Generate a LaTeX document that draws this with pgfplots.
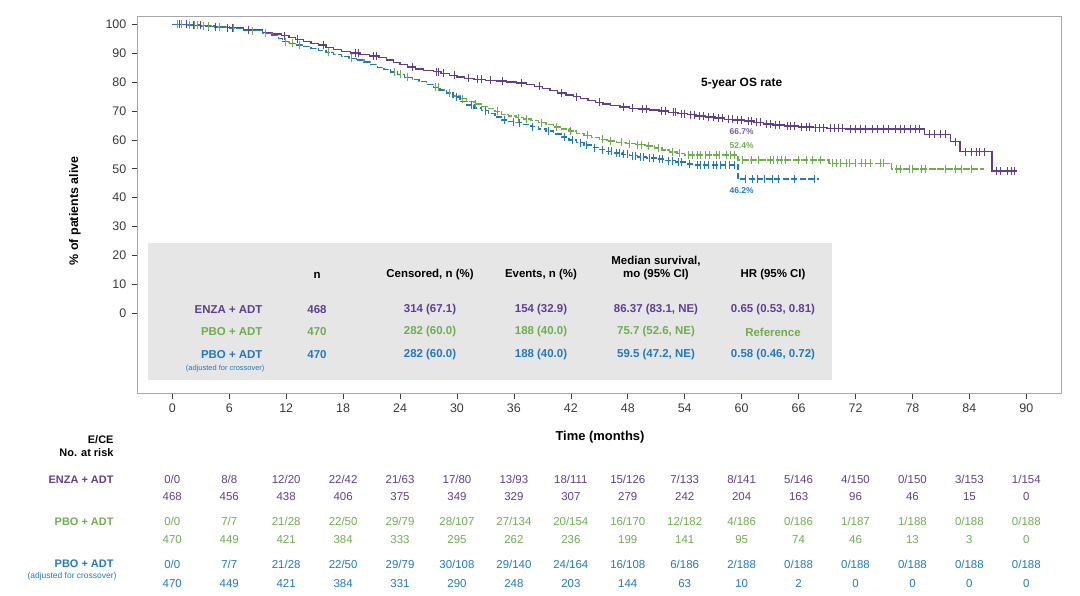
\documentclass[border=0pt]{standalone}
\usepackage{pgfplots}
\usepackage{pgfplotstable}
\pgfplotsset{compat=1.18}
\usepackage{fontspec}
\setmainfont{Liberation Sans}
\definecolor{enza}{HTML}{5F3F91}
\definecolor{pbo}{HTML}{6FAD4F}
\definecolor{adj}{HTML}{2379BF}
\definecolor{boxgray}{HTML}{E6E6E6}
\definecolor{axgray}{HTML}{A8A8A8}
\definecolor{txt}{HTML}{3A3A3A}

% ENZA + ADT step curve
\pgfplotstableread{
x y
0 100
1.8 99.6
3.5 99.2
5.5 98.8
7.5 98.0
9.5 97.2
10.5 96.6
11.5 96.0
12.3 95.4
13 94.8
13.8 94.0
14.6 93.4
15.4 92.8
16.2 92.0
17 91.2
17.8 90.5
18.8 90.0
19.8 89.6
20.8 89.0
21.8 88.4
22.6 87.6
23.3 86.8
24 86.0
24.8 85.2
25.6 84.5
26.5 84.0
27.5 83.6
28.3 83.0
29.2 82.3
30 81.8
30.8 81.3
31.8 80.9
33 80.6
34.2 80.4
35.2 80.0
36.3 79.6
37.3 79.2
38.2 78.5
39 77.8
39.8 77.0
40.6 76.2
41.5 75.5
42.3 74.9
43 74.3
43.8 73.6
44.6 73.0
45.4 72.4
46.2 71.8
47.2 71.3
48.2 70.9
49.2 70.6
50.3 70.3
51.3 69.9
52.3 69.5
53.3 69.1
54.3 68.7
55.2 68.3
56.2 67.9
57.2 67.5
58.2 67.1
59.2 66.8
60.3 66.5
61.3 66.0
62.3 65.5
63.3 65.1
64.5 64.8
66 64.5
67.5 64.2
69 64.0
71 63.8
79.3 61.9
82.0 59.4
83.0 55.9
86.4 49.2
89.0 49.2
}\enzaline

\pgfplotstableread{
x y
0.8 100
1.5 100
2.2 99.6
3 99.6
3.8 99.2
4.5 99.2
5.8 98.8
6.3 98.8
8 98.0
11.8 96.0
13.2 94.8
15.9 92.8
19.3 90.0
19.6 90.0
21.2 89.0
21.5 89.0
25.3 85.2
27.8 83.6
28.1 83.6
28.6 83.0
29.7 82.3
31.2 81.3
32.2 80.9
32.6 80.9
33.5 80.6
34.8 80.4
36.8 79.6
38.7 78.5
41 76.2
42.6 74.9
45 73.0
47.6 71.3
48.5 70.9
49.5 70.6
50 70.6
51.6 69.9
52 69.9
52.8 69.5
53 69.5
53.7 69.1
54 69.1
54.6 68.7
55 68.7
55.6 68.3
56 68.3
56.5 67.9
57 67.9
57.6 67.5
58 67.5
58.6 67.1
59 67.1
59.6 66.8
60 66.8
60.7 66.5
61 66.5
61.6 66.0
62 66.0
62.6 65.5
63 65.5
63.6 65.1
64 65.1
64.8 64.8
65.2 64.8
65.6 64.8
66.3 64.5
66.8 64.5
67.2 64.5
67.8 64.2
68.2 64.2
68.6 64.2
69.4 64.0
69.8 64.0
70.2 64.0
70.6 64.0
71.5 63.8
72 63.8
72.5 63.8
73 63.8
73.8 63.8
74.3 63.8
75 63.8
75.5 63.8
76.2 63.8
76.7 63.8
77.2 63.8
77.8 63.8
78.3 63.8
78.7 63.8
79.8 61.9
80.3 61.9
81 61.9
81.5 61.9
82.5 59.4
83.6 55.9
84.2 55.9
84.7 55.9
85.1 55.9
85.6 55.9
86.9 49.2
87.3 49.2
88 49.2
88.4 49.2
88.8 49.2
}\enzacens

% PBO + ADT step curve
\pgfplotstableread{
x y
0 100
1.5 99.7
3 99.4
4.5 99.0
6 98.6
7.5 97.8
9.5 96.8
10.5 96.0
11.2 95.0
11.6 94.0
12.3 93.4
13 92.8
13.8 92.2
14.6 91.6
15.4 91.0
16.2 90.3
17 89.6
17.8 88.9
18.6 88.2
19.4 87.6
20.2 86.9
20.9 86.0
21.6 85.1
22.3 84.3
23 83.5
23.7 82.6
24.5 81.6
25.3 80.8
26 80.2
26.8 79.2
27.5 78.2
28.2 77.3
28.9 76.2
29.6 75.2
30.3 74.2
31 73.3
31.8 72.4
32.6 71.6
33.3 70.8
34 69.8
34.7 68.8
35.4 68.2
36.2 67.7
37 67.2
37.8 66.6
38.6 65.9
39.4 65.2
40.2 64.4
41 63.7
41.8 63.0
42.6 62.2
43.4 61.5
44.2 60.8
45 60.2
45.8 59.6
46.8 59.1
47.8 58.7
48.8 58.3
49.8 57.9
50.8 57.2
51.6 56.5
52.4 55.8
53.2 55.3
54 54.8
59.6 53.0
69.2 51.9
75.8 49.9
85.5 49.9
}\pboline

\pgfplotstableread{
x y
0.5 100
1 100
1.8 99.7
2.3 99.7
2.7 99.7
3.3 99.4
3.8 99.4
5 99.0
6.5 98.6
8.4 97.8
9.8 96.8
11.9 94.0
12.7 93.4
13.4 92.8
16.5 90.3
18.9 88.2
23.4 83.5
24 82.6
24.8 81.6
27.7 78.2
28 78.2
29.2 76.2
30.6 74.2
32 72.4
34.3 69.8
36.5 67.7
37.3 67.2
38.9 65.9
40.5 64.4
42 63.0
43.8 61.5
45.3 60.2
46.2 59.6
47.3 59.1
48.2 58.7
49 58.3
49.4 58.3
50.2 57.9
51.2 57.2
52.7 55.8
53.5 55.3
54.4 54.8
54.8 54.8
55.3 54.8
55.7 54.8
56.2 54.8
56.6 54.8
57.3 54.8
57.7 54.8
58.4 54.8
58.8 54.8
59.2 54.8
60.1 53.0
61 53.0
61.8 53.0
63 53.0
63.4 53.0
63.8 53.0
64.2 53.0
64.6 53.0
66 53.0
66.8 53.0
67.5 53.0
68.3 53.0
69.6 51.9
70 51.9
70.4 51.9
71 51.9
71.4 51.9
72 51.9
72.6 51.9
73 51.9
73.6 51.9
74.6 51.9
75 51.9
76.3 49.9
76.7 49.9
77.7 49.9
78 49.9
79 49.9
79.4 49.9
81.5 49.9
82.5 49.9
83.2 49.9
84.2 49.9
}\pbocens

% PBO + ADT adjusted for crossover
\pgfplotstableread{
x y
0 100
1.5 99.7
3 99.4
4.5 99.0
6 98.6
7.5 97.8
9.5 96.8
10.5 96.0
11.2 95.0
11.6 94.0
12.3 93.4
13 92.8
13.8 92.2
14.6 91.6
15.4 91.0
16.2 90.3
17 89.6
17.8 88.9
18.6 88.2
19.4 87.6
20.2 86.9
20.9 86.0
21.6 85.1
22.3 84.3
23 83.5
23.7 82.6
24.5 81.6
25.3 80.8
26 80.2
26.8 79.2
27.5 78.2
28.2 77.3
28.9 76.2
29.6 74.8
30.3 73.2
31 72.0
31.8 71.0
32.6 70.1
33.3 69.0
34 67.9
34.7 66.8
35.4 66.3
36.2 65.9
37 65.3
37.8 64.6
38.6 63.8
39.4 63.0
40.2 62.0
41 61.0
41.8 60.0
42.6 59.0
43.4 58.2
44.2 57.3
45 56.6
45.8 56.0
46.6 55.5
47.4 55.0
48.2 54.5
49 54.1
50 53.7
51 53.3
52 52.8
53 52.3
54.2 51.6
55 51.3
59.6 46.5
68.1 46.5
}\adjline

\pgfplotstableread{
x y
30 74.8
31.5 72.0
33 70.1
35 66.8
36 66.3
36.6 65.9
38 64.6
39.6 63.0
41.3 61.0
42.2 60.0
43 59.0
43.6 58.2
44.5 57.3
45.3 56.6
46 56.0
46.3 56.0
46.8 55.5
47.1 55.5
47.6 55.0
48 55.0
48.5 54.5
48.8 54.5
49.3 54.1
49.7 54.1
50.3 53.7
50.7 53.7
51.3 53.3
51.7 53.3
52.3 52.8
52.7 52.8
53.3 52.3
53.7 52.3
54.5 51.6
55.3 51.3
55.7 51.3
56.1 51.3
56.5 51.3
57 51.3
57.4 51.3
57.8 51.3
58.3 51.3
58.7 51.3
59.2 51.3
60.4 46.5
61.1 46.5
61.7 46.5
62.4 46.5
63.2 46.5
63.9 46.5
65.6 46.5
67.7 46.5
}\adjcens

\begin{document}
\begin{tikzpicture}[x=1bp,y=1bp]
\path[use as bounding box] (0,0) rectangle (1080,596);
\coordinate (O) at (137.3,202.7);
% grey summary table background
\fill[boxgray] (148,216) rectangle (832,352.7);
\begin{axis}[
  at={(O)}, anchor=south west,
  width=924.4bp, height=376.6bp, scale only axis,
  xmin=-3.69, xmax=93.73, ymin=-27.7, ymax=102.6,
  xtick={0,6,12,18,24,30,36,42,48,54,60,66,72,78,84,90},
  ytick={0,10,20,30,40,50,60,70,80,90,100},
  xtick pos=bottom, ytick pos=left,
  tick align=outside, major tick length=5.5bp,
  axis line style={axgray, line width=1bp},
  tick style={txt, line width=0.6bp},
  /pgf/number format/assume math mode=true,
  tick label style={font=\fontsize{12.5}{14}\selectfont, text=txt},
  x tick label style={yshift=-1bp, text height=9bp, text depth=0bp, anchor=north},
  y tick label style={xshift=-2bp},
  clip=false,
]
\addplot[enza, line width=1.4bp, const plot] table {\enzaline};
\addplot[pbo, line width=1.4bp, const plot, dash pattern=on 7bp off 1.5bp] table {\pboline};
\addplot[adj, line width=1.4bp, const plot, dash pattern=on 6bp off 2.5bp] table {\adjline};
\addplot[enza, only marks, mark=|, mark size=4bp, mark options={line width=1bp}] table {\enzacens};
\addplot[pbo, only marks, mark=|, mark size=4bp, mark options={line width=1bp}] table {\pbocens};
\addplot[adj, only marks, mark=|, mark size=4bp, mark options={line width=1bp}] table {\adjcens};
\end{axis}

% axis titles
\node[font=\bfseries\fontsize{12.5}{14}\selectfont, rotate=90] at (75,385) {\% of patients alive};
\node[font=\bfseries\fontsize{13}{15}\selectfont] at (600,158.7) {Time (months)};

% 5-year OS annotations
\node[font=\bfseries\fontsize{12}{14}\selectfont] at (741.7,512) {5-year OS rate};
\node[font=\bfseries\fontsize{8.5}{10}\selectfont, text=enza!85] at (741.7,464) {66.7\%};
\node[font=\bfseries\fontsize{8.5}{10}\selectfont, text=pbo] at (741.7,450) {52.4\%};
\node[font=\bfseries\fontsize{8.5}{10}\selectfont, text=adj] at (741.7,405) {46.2\%};

% summary table
\begin{scope}[every node/.style={font=\bfseries\fontsize{11.5}{13.5}\selectfont}]
\node at (317,321) {n};
\node at (430,321) {Censored, n (\%)};
\node at (541,321) {Events, n (\%)};
\node[align=center] at (656,328) {Median survival,\\mo (95\% CI)};
\node at (773,321) {HR (95\% CI)};
\node[anchor=east, text=enza] at (266,286) {ENZA + ADT};
\node[text=enza] at (317,286) {468};
\node[text=enza] at (430,286) {314 (67.1)};
\node[text=enza] at (541,286) {154 (32.9)};
\node[text=enza] at (656,286) {86.37 (83.1, NE)};
\node[text=enza] at (773,286) {0.65 (0.53, 0.81)};
\node[anchor=east, text=pbo] at (266,264) {PBO + ADT};
\node[text=pbo] at (317,264) {470};
\node[text=pbo] at (430,264) {282 (60.0)};
\node[text=pbo] at (541,264) {188 (40.0)};
\node[text=pbo] at (656,264) {75.7 (52.6, NE)};
\node[text=pbo] at (773,264) {Reference};
\node[anchor=east, text=adj] at (266,241) {PBO + ADT};
\node[text=adj] at (317,241) {470};
\node[text=adj] at (430,241) {282 (60.0)};
\node[text=adj] at (541,241) {188 (40.0)};
\node[text=adj] at (656,241) {59.5 (47.2, NE)};
\node[text=adj] at (773,241) {0.58 (0.46, 0.72)};
\end{scope}
\node[anchor=east, text=adj, font=\fontsize{7.5}{9}\selectfont] at (268,227) {(adjusted for crossover)};

% number at risk table
\begin{scope}[every node/.style={font=\bfseries\fontsize{11}{13}\selectfont, anchor=east}]
\node at (117,156.7) {E/CE};
\node at (117,143.3) {No. at risk};
\node[text=enza] at (117,116.7) {ENZA + ADT};
\node[text=pbo] at (117,74.3) {PBO + ADT};
\node[text=adj] at (117,32) {PBO + ADT};
\end{scope}
\node[anchor=east, text=adj, font=\fontsize{8.5}{10}\selectfont] at (120,19.3) {(adjusted for crossover)};

\begin{scope}[every node/.style={font=\fontsize{11.5}{13}\selectfont}]
\foreach \t/\e/\c/\n in {0/0/0/468, 6/8/8/456, 12/12/20/438, 18/22/42/406, 24/21/63/375, 30/17/80/349, 36/13/93/329, 42/18/111/307, 48/15/126/279, 54/7/133/242, 60/8/141/204, 66/5/146/163, 72/4/150/96, 78/0/150/46, 84/3/153/15, 90/1/154/0}{
  \node[text=enza] at ({172.3+9.489*\t},116.7) {\e/\c};
  \node[text=enza] at ({172.3+9.489*\t},99.3) {\n};
}
\foreach \t/\e/\c/\n in {0/0/0/470, 6/7/7/449, 12/21/28/421, 18/22/50/384, 24/29/79/333, 30/28/107/295, 36/27/134/262, 42/20/154/236, 48/16/170/199, 54/12/182/141, 60/4/186/95, 66/0/186/74, 72/1/187/46, 78/1/188/13, 84/0/188/3, 90/0/188/0}{
  \node[text=pbo] at ({172.3+9.489*\t},74.3) {\e/\c};
  \node[text=pbo] at ({172.3+9.489*\t},56) {\n};
}
\foreach \t/\e/\c/\n in {0/0/0/470, 6/7/7/449, 12/21/28/421, 18/22/50/384, 24/29/79/331, 30/30/108/290, 36/29/140/248, 42/24/164/203, 48/16/108/144, 54/6/186/63, 60/2/188/10, 66/0/188/2, 72/0/188/0, 78/0/188/0, 84/0/188/0, 90/0/188/0}{
  \node[text=adj] at ({172.3+9.489*\t},32) {\e/\c};
  \node[text=adj] at ({172.3+9.489*\t},12.7) {\n};
}
\end{scope}
\end{tikzpicture}
\end{document}
